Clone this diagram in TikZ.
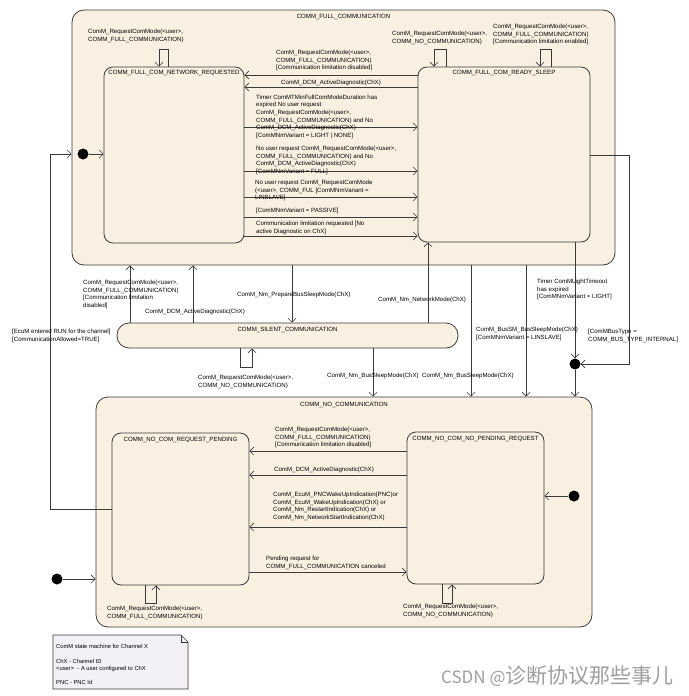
\documentclass[tikz,border=0pt]{standalone}
\usepackage{fontspec}
\setmainfont{Liberation Sans}
\newfontfamily\cjkfont{Noto Sans CJK SC}
\usetikzlibrary{arrows.meta,positioning}
\definecolor{statefill}{HTML}{FAF0E2}
\definecolor{notefill}{HTML}{F4F1F6}
\definecolor{edgegray}{HTML}{3A3A3A}

\begin{document}
\begin{tikzpicture}[
    x=1pt, y=-1pt,
    every node/.style={font=\fontsize{6.1}{7.65}\selectfont},
    state/.style={draw=edgegray, fill=statefill, rounded corners=9pt, line width=0.8pt, inner sep=0pt},
    compstate/.style={state, rounded corners=12pt},
    title/.style={inner sep=1pt, anchor=north},
    lbl/.style={align=left, inner sep=0pt, anchor=north west},
    trans/.style={draw=edgegray, line width=0.6pt, -{Straight Barb[length=4pt,width=8pt]}},
    initdot/.style={circle, fill=black, inner sep=0pt, minimum size=11pt},
    notebox/.style={draw=edgegray, fill=notefill, line width=0.6pt}
]
\useasboundingbox (0,0) rectangle (688,696);

% Composite states
\node[compstate, minimum width=543pt, minimum height=255pt] (full) at (343.5,137.5) {};
\node[title, below=3pt of full.north] (fulltitle) {COMM\_FULL\_COMMUNICATION};
\node[compstate, minimum width=496pt, minimum height=230pt] (nocomm) at (344,512) {};
\node[title, below=4pt of nocomm.north] (nocommtitle) {COMM\_NO\_COMMUNICATION};
\node[state, rounded corners=12pt, minimum width=341pt, minimum height=25pt] (silent) at (287.5,335.5) {};
\node[title, below=3pt of silent.north] (silenttitle) {COMM\_SILENT\_COMMUNICATION};

% Sub states
\node[state, minimum width=140pt, minimum height=176pt] (nreq) at (174,155) {};
\node[title, below=2pt of nreq.north] (nreqtitle) {COMM\_FULL\_COM\_NETWORK\_REQUESTED};
\node[state, minimum width=172pt, minimum height=175pt] (rsleep) at (504,154.5) {};
\node[title, below=2pt of rsleep.north] (rsleeptitle) {COMM\_FULL\_COM\_READY\_SLEEP};
\node[state, minimum width=137pt, minimum height=152pt] (rpend) at (180.5,509) {};
\node[title, below=3pt of rpend.north] (rpendtitle) {COMM\_NO\_COM\_REQUEST\_PENDING};
\node[state, minimum width=137pt, minimum height=152pt] (npend) at (475.5,508) {};
\node[title, below=3pt of npend.north] (npendtitle) {COMM\_NO\_COM\_NO\_PENDING\_REQUEST};

% Initial and junction points
\node[initdot] (fullinit) at (83,154) {};
\node[initdot] (noinit) at (574,496) {};
\node[initdot] (startdot) at (57,579) {};
\node[initdot] (junction) at (575,364) {};

% Self transitions
\draw[trans] (nreq.north -| 168,0) |- (159,49) -- (nreq.north -| 159,0);
\draw[trans] (rsleep.north -| 446,0) |- (434,49) -- (rsleep.north -| 434,0);
\draw[trans] (rsleep.north -| 551,0) |- (540,49) -- (rsleep.north -| 540,0);
\draw[trans] (silent.south -| 240,0) |- (252,367) -- (silent.south -| 252,0);
\draw[trans] (rpend.south -| 145,0) |- (156,603) -- (rpend.south -| 156,0);
\draw[trans] (npend.south -| 442,0) |- (452,603) -- (npend.south -| 452,0);

\node[lbl] (lnreqloop) at (88,29) {ComM\_RequestComMode(<user>,\\COMM\_FULL\_COMMUNICATION)};
\node[lbl] (lrsloopa) at (392,31) {ComM\_RequestComMode(<user>,\\COMM\_NO\_COMMUNICATION)};
\node[lbl] (lrsloopb) at (493,24) {ComM\_RequestComMode(<user>,\\COMM\_FULL\_COMMUNICATION)\\{}[Communication limitation enabled]};
\node[lbl] (lsilloop) at (198,375) {ComM\_RequestComMode(<user>,\\COMM\_NO\_COMMUNICATION)};
\node[lbl] (lrploop) at (107,606) {ComM\_RequestComMode(<user>,\\COMM\_FULL\_COMMUNICATION)};
\node[lbl] (lnploop) at (403,604) {ComM\_RequestComMode(<user>,\\COMM\_NO\_COMMUNICATION)};

% Inside COMM_FULL_COMMUNICATION
\draw[trans] (fullinit) -- (nreq.west |- fullinit);
\draw[trans] (rsleep.west |- 0,75) -- (nreq.east |- 0,75);
\draw[trans] (rsleep.west |- 0,87) -- (nreq.east |- 0,87);
\draw[trans] (nreq.east |- 0,127) -- (rsleep.west |- 0,127);
\draw[trans] (nreq.east |- 0,171) -- (rsleep.west |- 0,171);
\draw[trans] (nreq.east |- 0,197) -- (rsleep.west |- 0,197);
\draw[trans] (nreq.east |- 0,217) -- (rsleep.west |- 0,217);
\draw[trans] (nreq.east |- 0,236) -- (rsleep.west |- 0,236);

\node[lbl] (lfulllim) at (276,50) {ComM\_RequestComMode(<user>,\\COMM\_FULL\_COMMUNICATION)\\{}[Communication limitation disabled]};
\node[lbl] (lfulldcm) at (281,80) {ComM\_DCM\_ActiveDiagnostic(ChX)};
\node[lbl] (ltimer) at (256,94.5) {Timer ComMTMinFullComModeDuration has\\expired No user request\\ComM\_RequestComMode(<user>,\\COMM\_FULL\_COMMUNICATION) and No\\ComM\_DCM\_ActiveDiagnostic(ChX)\\{}[ComMNmVariant = LIGHT\,\,|\,NONE]};
\node[lbl] (lnmfull) at (256,146) {No user request ComM\_RequestComMode(<user>,\\COMM\_FULL\_COMMUNICATION) and No\\ComM\_DCM\_ActiveDiagnostic(ChX)\\{}[ComMNmVariant = FULL]};
\node[lbl] (lnmlin) at (255,180) {No user request ComM\_RequestComMode\\(<user>, COMM\_FUL [ComMNmVariant =\\LINSLAVE]};
\node[lbl] (lnmpass) at (256,208) {[ComMNmVariant = PASSIVE]};
\node[lbl] (llimreq) at (256,221) {Communication limitation requested [No\\active Diagnostic on ChX]};

% Between COMM_FULL_COMMUNICATION and COMM_SILENT_COMMUNICATION
\draw[trans] (rpend.west |- 0,509) -| (50,154) -- (full.west |- 0,154);
\draw[trans] (silent.north -| 130,0) -- (full.south -| 130,0);
\draw[trans] (silent.north -| 193,0) -- (full.south -| 193,0);
\draw[trans] (full.south -| 292,0) -- (silent.north -| 292,0);
\draw[trans] (silent.north -| 428,0) -- (rsleep.south -| 428,0);

\node[lbl] (lecum) at (12,329) {[EcuM entered RUN for the channel]\\{}[CommunicationAllowed=TRUE]};
\node[lbl] (lsilfull) at (83,280) {ComM\_RequestComMode(<user>,\\COMM\_FULL\_COMMUNICATION)\\{}[Communication limitation\\disabled]};
\node[lbl] (lsildcm) at (145,309) {ComM\_DCM\_ActiveDiagnostic(ChX)};
\node[lbl] (lprep) at (237,292) {ComM\_Nm\_PrepareBusSleepMode(ChX)};
\node[lbl] (lnetmode) at (378,297) {ComM\_Nm\_NetworkMode(ChX)};

% Towards COMM_NO_COMMUNICATION
\draw[trans] (silent.south -| 373,0) -- (nocomm.north -| 373,0);
\draw[trans] (full.south -| 471,0) -- (nocomm.north -| 471,0);
\draw[trans] (full.south -| 526,0) -- (nocomm.north -| 526,0);
\draw[trans] (rsleep.south -| junction) -- (junction);
\draw[trans] (rsleep.east |- 0,155) -| (629,364) -- (junction);
\draw[trans] (junction) -- (nocomm.north -| junction);

\node[lbl] (lbussleepa) at (327,373) {ComM\_Nm\_BusSleepMode(ChX)};
\node[lbl] (lbussleepb) at (422,373) {ComM\_Nm\_BusSleepMode(ChX)};
\node[lbl] (lbussm) at (476,327) {ComM\_BusSM\_BusSleepMode(ChX)\\{}[ComMNmVariant = LINSLAVE]};
\node[lbl] (llight) at (537,279) {Timer ComMLightTimeout\\has expired\\{}[ComMNmVariant = LIGHT]};
\node[lbl] (lbustype) at (588,329) {[ComMBusType =\\COMM\_BUS\_TYPE\_INTERNAL]};

% Inside COMM_NO_COMMUNICATION
\draw[trans] (startdot) -- (nocomm.west |- startdot);
\draw[trans] (noinit) -- (npend.east |- noinit);
\draw[trans] (npend.west |- 0,451) -- (rpend.east |- 0,451);
\draw[trans] (npend.west |- 0,475) -- (rpend.east |- 0,475);
\draw[trans] (npend.west |- 0,527) -- (rpend.east |- 0,527);
\draw[trans] (rpend.east |- 0,572) -- (npend.west |- 0,572);

\node[lbl] (lnolim) at (275,427) {ComM\_RequestComMode(<user>,\\COMM\_FULL\_COMMUNICATION)\\{}[Communication limitation disabled]};
\node[lbl] (lnodcm) at (274,467) {ComM\_DCM\_ActiveDiagnostic(ChX)};
\node[lbl] (lwakeup) at (273,492) {ComM\_EcuM\_PNCWakeUpIndication(PNC)or\\ComM\_EcuM\_WakeUpIndication(ChX) or\\ComM\_Nm\_RestartIndication(ChX) or\\ComM\_Nm\_NetworkStartIndication(ChX)};
\node[lbl] (lcancel) at (266,556) {Pending request for\\COMM\_FULL\_COMMUNICATION canceled};

% Legend note
\draw[notebox] (53,635) -- (181,635) -- (188,642) -- (188,689) -- (53,689) -- cycle;
\draw[notebox, fill=none] (181,635) |- (188,642);
\node[lbl, font=\fontsize{5.8}{7.2}\selectfont] (notetext) at (56,644.5) {ComM state machine for Channel X\\[7.2pt]ChX - Channel ID\\<user>\ \ - A user configured to ChX\\[7.2pt]PNC - PNC Id};

% Watermark
\node[anchor=west, inner sep=0pt, text=black!38, font=\cjkfont\fontsize{17}{20}\selectfont] (mark) at (441,676) {CSDN @\fontsize{21}{24}\selectfont 诊断协议那些事儿};

\end{tikzpicture}
\end{document}
